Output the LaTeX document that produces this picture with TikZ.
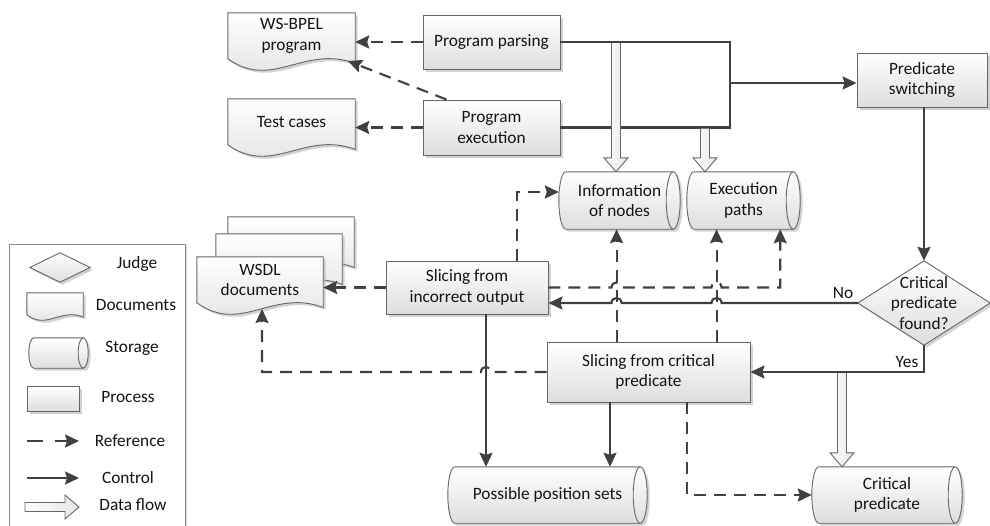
\documentclass[tikz,border=0pt]{standalone}
\usepackage{fontspec}
\setmainfont{Carlito}
\usetikzlibrary{arrows.meta,calc,shadows,backgrounds}

\definecolor{wire}{HTML}{404040}
\definecolor{rim}{HTML}{666666}
\definecolor{shadowgray}{HTML}{B4B4B4}

\tikzset{
  lbl/.style={font=\fontsize{17.3}{20.5}\selectfont, text=black!92, align=center, inner sep=0pt},
  shapefill/.style={top color=white, bottom color=black!13, draw=rim, line width=0.9pt,
    drop shadow={shadow xshift=2.5pt, shadow yshift=-2.5pt, fill=shadowgray, opacity=0.6}},
  process/.style={lbl, rectangle, shapefill},
  holder/.style={lbl, rectangle, draw=none},
  plain/.style={draw=wire, line width=2.1pt},
  ctrl/.style={plain, -{Stealth[length=14pt,width=13pt,inset=2pt]}},
  ref/.style={ctrl, dash pattern=on 12pt off 8pt},
  fatarrow/.style={draw=rim, line width=0.9pt, left color=white, right color=black!10},
  legendbox/.style={draw=black!45, fill=white, line width=0.9pt,
    drop shadow={shadow xshift=2pt, shadow yshift=-2pt, fill=shadowgray, opacity=0.5}},
}

% document outline with a wavy bottom, below the text area of node #1, shifted by (#2,#3)
\newcommand\docshape[3]{%
  \path[shapefill] let \p1=($(#1.north west)+(#2,#3)$), \p2=($(#1.south east)+(#2,#3)$),
    \n1={\x2-\x1}, \n2={\y1-\y2} in
    (\x1,\y1) -- (\x2,\y1) -- (\x2,{\y1-1.1*\n2})
    .. controls ({\x1+0.6*\n1},{\y1-0.6875*\n2}) and ({\x1+0.35*\n1},{\y1-1.6875*\n2}) .. (\x1,\y2)
    -- cycle;}

% horizontal storage cylinder around node #1, cap radius #2 (pt)
\newcommand\cylshape[2]{%
  \path[shapefill] let \p1=(#1.north west), \p2=(#1.south east), \n1={(\y1-\y2)/2} in
    ({\x1+#2pt},\y1) -- ({\x2-#2pt},\y1) arc[start angle=90,end angle=-90,x radius=#2pt,y radius=\n1*1pt]
    -- ({\x1+#2pt},\y2) arc[start angle=270,end angle=90,x radius=#2pt,y radius=\n1*1pt] -- cycle;
  \draw[draw=rim, line width=0.9pt] let \p1=(#1.north east), \p2=(#1.south east), \n1={(\y1-\y2)/2} in
    ({\x1-#2pt},\y1) arc[start angle=90,end angle=270,x radius=#2pt,y radius=\n1*1pt];}

% decision diamond inscribed in node #1
\newcommand\diamondshape[1]{%
  \path[shapefill] (#1.north) -- (#1.east) -- (#1.south) -- (#1.west) -- cycle;}

% hollow data-flow arrow pointing down from #1 to #2
\newcommand\fatdown[2]{%
  \path[fatarrow] let \p1=(#1), \p2=(#2) in
    ({\x1-4.5pt},\y1) -- ({\x1-4.5pt},{\y2+14pt}) -- ({\x1-12pt},{\y2+14pt}) -- (\x1,\y2)
    -- ({\x1+12pt},{\y2+14pt}) -- ({\x1+4.5pt},{\y2+14pt}) -- ({\x1+4.5pt},\y1);}

\begin{document}
\begin{tikzpicture}[x=1pt,y=1pt]
\useasboundingbox (0,0) rectangle (990,-525);

% ---------- main nodes ----------
\node[holder, minimum width=127, minimum height=45.6] (bpel) at (291.5,-35.8) {WS-BPEL\\program};
\node[holder, minimum width=127, minimum height=45.6] (tests) at (291.5,-121.8) {Test cases};
\node[process, minimum width=137, minimum height=54] (pparse) at (491.5,-42) {Program parsing};
\node[process, minimum width=137, minimum height=55] (pexec) at (491.5,-127.5) {Program\\execution};
\node[process, minimum width=130, minimum height=54] (ps) at (922,-80) {Predicate\\switching};
\node[holder, minimum width=121, minimum height=57] (info) at (619.5,-200.5) {Information\\of nodes};
\node[holder, minimum width=113, minimum height=57] (exec) at (743.5,-200.5) {Execution\\paths};
\node[holder, minimum width=132, minimum height=84] (dia) at (924,-303) {Critical\\predicate\\found?};
\node[holder, minimum width=126, minimum height=45.6] (wsdl) at (260,-279.8) {WSDL\\documents};
\node[process, minimum width=162, minimum height=53] (sio) at (467,-287.5) {Slicing from\\incorrect output};
\node[process, minimum width=203, minimum height=60] (scp) at (648.5,-372) {Slicing from critical\\predicate};
\node[holder, minimum width=199, minimum height=56] (pps) at (547.5,-495) {Possible position sets};
\node[holder, minimum width=150, minimum height=56] (cp) at (887,-495) {Critical\\predicate};

% ---------- legend nodes ----------
\node[holder, minimum width=60, minimum height=29] (lgdia) at (60,-267.5) {};
\node[holder, minimum width=56, minimum height=21.6] (lgdoc) at (55,-303.8) {};
\node[holder, minimum width=59, minimum height=30] (lgcyl) at (58.5,-353) {};
\node[process, minimum width=52, minimum height=25] (lgproc) at (53,-398.5) {};
\node[lbl] (tjudge) at (137,-264) {Judge};
\node[lbl] (tdocs) at (136,-305) {Documents};
\node[lbl] (tstore) at (132,-348) {Storage};
\node[lbl] (tproc) at (128,-397) {Process};
\node[lbl] (tref) at (130,-441) {Reference};
\node[lbl] (tctrl) at (128,-478) {Control};
\node[lbl] (tdata) at (133,-505) {Data flow};

% ---------- outlines behind the labels ----------
\begin{scope}[on background layer]
  \node[legendbox, anchor=north west, minimum width=176, minimum height=290] (legend) at (9,-244) {};
  \diamondshape{lgdia}
  \docshape{lgdoc}{0}{0}
  \cylshape{lgcyl}{5}
  \docshape{bpel}{0}{0}
  \docshape{tests}{0}{0}
  \docshape{wsdl}{31}{40}
  \docshape{wsdl}{19}{23}
  \docshape{wsdl}{0}{0}
  \cylshape{info}{7}
  \cylshape{exec}{7}
  \cylshape{pps}{7}
  \cylshape{cp}{7}
  \diamondshape{dia}
\end{scope}

% ---------- helper points ----------
\coordinate (jr) at (730,-83);
\coordinate (bpelin) at (348,-61);
\coordinate (wsdlin) at (262,-309);
\coordinate (v1) at ([xshift=70pt]scp.north west);
\coordinate (v2) at ([xshift=170pt]scp.north west);
\coordinate (hA1) at (v1 |- sio.east);
\coordinate (hA2) at (v2 |- sio.east);
\coordinate (hB1) at (v1 |- dia.west);
\coordinate (hB2) at (v2 |- dia.west);
\coordinate (s1) at ([xshift=19pt]sio.south);
\coordinate (hC) at (s1 |- scp.west);
\coordinate (s2) at ([xshift=-38.5pt]scp.south);
\coordinate (s3) at ([xshift=38.5pt]scp.south);
\coordinate (d1) at ([xshift=50pt]sio.north);
\coordinate (xr) at ([xshift=-20pt]exec.south east);

% ---------- control flow ----------
\draw[plain] (pparse.east) -| (jr);
\draw[plain] (pexec.east) -| (jr);
\draw[ctrl] (jr) -- (jr -| ps.west);
\draw[ctrl] (dia.north |- ps.south) -- (dia.north);
\draw[ctrl] (dia.west) -- ([xshift=5pt]hB2) .. controls +(0,6.7) and +(0,6.7) .. ([xshift=-5pt]hB2)
  -- ([xshift=5pt]hB1) .. controls +(0,6.7) and +(0,6.7) .. ([xshift=-5pt]hB1)
  -- (dia.west -| sio.east);
\draw[ctrl] (dia.south) |- (scp.east);
\draw[ctrl] (s1) -- (s1 |- pps.north);
\draw[ctrl] (s2) -- (s2 |- pps.north);

% ---------- references ----------
\draw[ref] (pparse.west) -- (pparse.west -| bpel.east);
\draw[ref] (pexec.west) -- (pexec.west -| tests.east);
\draw[ref] ([xshift=24pt]pexec.north west) -- (bpelin);
\draw[ref] (sio.west) -- (sio.west -| wsdl.east);
\draw[ref] (d1) |- ([yshift=8.5pt]info.west);
\draw[ref] (v1) -- (v1 |- info.south);
\draw[ref] (v2) -- (v2 |- exec.south);
\draw[ref] (sio.east) -- ([xshift=-5pt]hA1) .. controls +(0,6.7) and +(0,6.7) .. ([xshift=5pt]hA1)
  -- ([xshift=-5pt]hA2) .. controls +(0,6.7) and +(0,6.7) .. ([xshift=5pt]hA2)
  -| (xr);
\draw[ref] (scp.west) -- ([xshift=5pt]hC) .. controls +(0,6.7) and +(0,6.7) .. ([xshift=-5pt]hC)
  -| (wsdlin);
\draw[ref] (s3) |- (cp.west);

% ---------- data flow ----------
\coordinate (f1) at (616,-43);
\coordinate (f2) at (705,-128.5);
\coordinate (f3) at (842,-373);
\fatdown{f1}{f1 |- info.north}
\fatdown{f2}{f2 |- exec.north}
\fatdown{f3}{f3 |- cp.north}

% ---------- branch labels ----------
\node[lbl] (nolbl) at (843,-293) {No};
\node[lbl] (yeslbl) at (907,-362) {Yes};

% ---------- legend samples ----------
\coordinate (lr1) at (27,-441);
\coordinate (lr2) at (79,-441);
\draw[ref, dash pattern=on 16pt off 12pt] (lr1) -- (lr2);
\coordinate (lc1) at (27,-478);
\coordinate (lc2) at (79,-478);
\draw[ctrl] (lc1) -- (lc2);
\path[fatarrow] (25,-502.5) -- (65,-502.5) -- (65,-495) -- (79,-507) -- (65,-519)
  -- (65,-511.5) -- (25,-511.5) -- cycle;
\end{tikzpicture}
\end{document}
